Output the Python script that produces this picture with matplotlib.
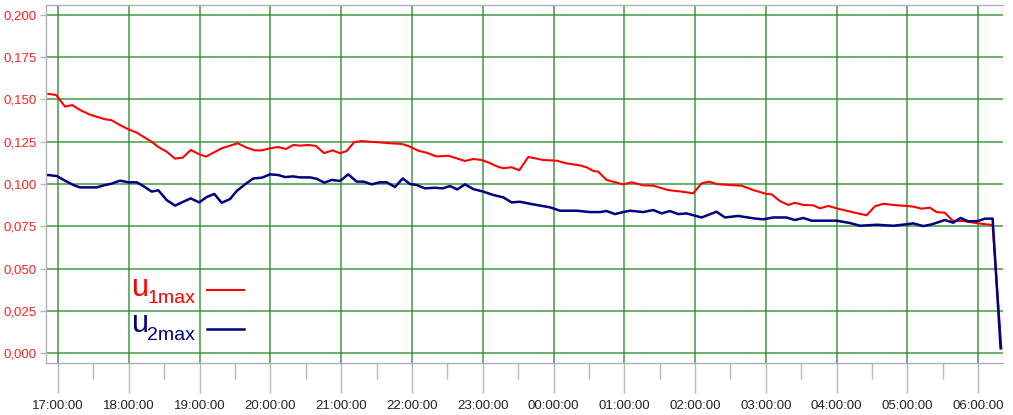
import numpy as np
import matplotlib
matplotlib.use("Agg")
import matplotlib.pyplot as plt
from matplotlib.ticker import FixedLocator, FuncFormatter
from matplotlib.transforms import Bbox, TransformedBbox

plt.rcParams["font.family"] = ["Liberation Sans", "DejaVu Sans"]

# time axis: minutes after 17:00
t_u1 = [-8.2, -1.7, 5.9, 12.1, 18.6, 26.5, 32.8, 39.8, 45.5, 52.5, 59.6, 66.7,
        73.7, 79.4, 85.0, 92.1, 99.2, 105.7, 112.5, 119.7, 125.4, 131.6, 138.7,
        145.8, 152.3, 159.9, 166.9, 172.6, 179.7, 186.7, 193.2, 199.4, 205.1,
        212.1, 218.7, 225.4, 232.8, 239.0, 244.7, 250.9, 257.4, 264.4, 272.9,
        281.4, 291.3, 296.9, 305.4, 312.5, 320.9, 330.8, 337.9, 344.9, 352.0,
        359.1, 364.7, 371.8, 377.4, 384.5, 391.0, 398.6, 411.3, 422.6, 431.1,
        442.4, 448.1, 453.7, 457.9, 465.0, 473.5, 479.1, 486.3, 496.1, 504.5,
        517.2, 528.6, 538.4, 545.5, 552.0, 558.2, 569.5, 579.4, 589.3, 600.6,
        604.9, 611.9, 619.0, 624.6, 631.7, 640.2, 645.8, 652.9, 660.0, 674.1,
        685.4, 692.4, 699.5, 708.0, 719.3, 724.9, 732.0, 739.0, 744.7, 751.7,
        758.3, 767.2, 780.0, 792.2, 799.6]
u1max = [0.1533, 0.1527, 0.1458, 0.1467, 0.1438, 0.1412, 0.1398, 0.1383, 0.1377,
         0.1349, 0.1324, 0.1304, 0.1274, 0.1250, 0.1219, 0.1191, 0.1150, 0.1156,
         0.1201, 0.1176, 0.1162, 0.1185, 0.1211, 0.1227, 0.1241, 0.1215, 0.1199,
         0.1199, 0.1211, 0.1219, 0.1207, 0.1231, 0.1227, 0.1231, 0.1225, 0.1183,
         0.1199, 0.1182, 0.1195, 0.1247, 0.1254, 0.1250, 0.1246, 0.1241, 0.1237,
         0.1225, 0.1197, 0.1185, 0.1163, 0.1167, 0.1152, 0.1136, 0.1148, 0.1142,
         0.1128, 0.1105, 0.1093, 0.1099, 0.1081, 0.1160, 0.1142, 0.1138, 0.1122,
         0.1110, 0.1099, 0.1077, 0.1073, 0.1024, 0.1008, 0.0998, 0.1010, 0.0992,
         0.0990, 0.0964, 0.0955, 0.0945, 0.1004, 0.1014, 0.1000, 0.0994, 0.0990,
         0.0964, 0.0941, 0.0939, 0.0899, 0.0876, 0.0889, 0.0876, 0.0874, 0.0856,
         0.0870, 0.0856, 0.0832, 0.0815, 0.0868, 0.0883, 0.0876, 0.0870, 0.0866,
         0.0854, 0.0860, 0.0834, 0.0830, 0.0783, 0.0781, 0.0767, 0.0757, 0.0028]

t_u2 = [-8.2, -1.1, 5.9, 13.0, 18.6, 32.8, 39.8, 45.5, 52.5, 59.6, 66.7, 72.3,
        79.4, 85.0, 92.1, 99.2, 106.2, 112.5, 119.7, 126.0, 132.5, 138.7, 145.8,
        151.5, 158.5, 165.5, 172.6, 179.7, 186.7, 192.4, 199.4, 205.1, 213.6,
        219.2, 225.7, 232.0, 239.0, 246.0, 253.2, 259.2, 265.8, 272.9, 278.6,
        285.6, 292.2, 298.3, 304.0, 311.0, 319.5, 326.0, 332.2, 338.4, 344.9,
        352.0, 360.4, 368.9, 377.4, 384.5, 391.5, 398.6, 405.7, 417.0, 425.5,
        439.6, 450.9, 459.3, 465.0, 472.1, 479.1, 484.8, 496.1, 504.5, 511.6,
        518.6, 525.7, 532.8, 545.5, 558.2, 565.3, 576.6, 589.3, 597.7, 606.2,
        617.5, 624.6, 631.7, 638.8, 660.0, 671.3, 679.8, 693.9, 708.0, 720.7,
        724.9, 733.4, 740.5, 751.7, 758.8, 765.1, 771.5, 780.0, 785.7, 792.2,
        799.0]
u2max = [0.1053, 0.1047, 0.1020, 0.0994, 0.0980, 0.0980, 0.0994, 0.1002, 0.1020,
         0.1010, 0.1010, 0.0988, 0.0955, 0.0963, 0.0905, 0.0872, 0.0895, 0.0915,
         0.0891, 0.0923, 0.0941, 0.0889, 0.0911, 0.0959, 0.0998, 0.1033, 0.1037,
         0.1057, 0.1053, 0.1041, 0.1045, 0.1039, 0.1039, 0.1031, 0.1008, 0.1024,
         0.1018, 0.1057, 0.1014, 0.1014, 0.0998, 0.1010, 0.1010, 0.0982, 0.1033,
         0.1000, 0.0994, 0.0974, 0.0978, 0.0974, 0.0988, 0.0968, 0.0998, 0.0970,
         0.0955, 0.0935, 0.0921, 0.0891, 0.0895, 0.0885, 0.0876, 0.0862, 0.0842,
         0.0842, 0.0834, 0.0834, 0.0840, 0.0822, 0.0834, 0.0842, 0.0834, 0.0846,
         0.0826, 0.0840, 0.0822, 0.0826, 0.0802, 0.0836, 0.0802, 0.0811, 0.0797,
         0.0791, 0.0802, 0.0802, 0.0787, 0.0799, 0.0783, 0.0783, 0.0769, 0.0753,
         0.0759, 0.0753, 0.0763, 0.0767, 0.0751, 0.0761, 0.0787, 0.0771, 0.0799,
         0.0779, 0.0781, 0.0795, 0.0795, 0.0028]

y_ticks = [0.000, 0.025, 0.050, 0.075, 0.100, 0.125, 0.150, 0.175, 0.200]
hour_ticks = list(range(0, 781, 60))
half_hour_ticks = list(range(30, 781, 60))

W, H = 1013, 415
fig = plt.figure(figsize=(W / 100, H / 100), dpi=100)
ax = fig.add_axes([46 / W, 1 - 363 / H, (1003 - 46) / W, (363 - 5) / H])

ax.plot(t_u1, u1max, color="#ff0000", lw=1.5, zorder=3)
ax.plot(t_u2, u2max, color="#000080", lw=1.8, zorder=4)

ax.set_xlim(-10.2, 801.0)
ax.set_ylim(-0.0059, 0.2059)

ax.xaxis.set_major_locator(FixedLocator(hour_ticks))
ax.xaxis.set_minor_locator(FixedLocator(half_hour_ticks))
ax.xaxis.set_major_formatter(
    FuncFormatter(lambda m, _: "%02d:00:00" % ((17 + int(round(m)) // 60) % 24)))
ax.yaxis.set_major_locator(FixedLocator(y_ticks))
ax.yaxis.set_major_formatter(FuncFormatter(lambda v, _: ("%.3f" % v).replace(".", ",")))

ax.grid(True, which="major", color="#228822", lw=1.1, alpha=0.85)
ax.set_axisbelow(True)

ax.tick_params(axis="x", which="major", length=21.6, width=1, color="#b8b8b8",
               pad=5, labelsize=9.5, labelcolor="#222222")
ax.tick_params(axis="x", which="minor", length=11.5, width=1, color="#b8b8b8")
ax.tick_params(axis="y", length=4.5, width=1, color="#b8b8b8", pad=2,
               labelsize=9.5, labelcolor="#ff2020")

for side in ["left", "bottom", "top"]:
    ax.spines[side].set_color("#b0b0b0")
    ax.spines[side].set_linewidth(1)
ax.spines["right"].set_visible(False)

# the chart area stops at the right edge of the plot, labels included
clip = TransformedBbox(Bbox([[0, 0], [1003 / W, 1]]), fig.transFigure)
for lbl in ax.get_xticklabels():
    lbl.set_clip_box(clip)
    lbl.set_clip_on(True)

# legend built from text and short line samples
def px(x, y):
    return x / W, 1 - y / H

fig.text(*px(131.5, 296), "u", color="#ff0000", fontsize=22)
fig.text(*px(147, 303), "1max", color="#ff0000", fontsize=14)
fig.add_artist(plt.Line2D([207 / W, 244 / W], [1 - 290 / H] * 2, color="#ff0000", lw=1.5))

fig.text(*px(131.5, 332), "u", color="#000080", fontsize=22)
fig.text(*px(147, 340), "2max", color="#000080", fontsize=14)
fig.add_artist(plt.Line2D([207 / W, 244 / W], [1 - 329 / H] * 2, color="#000080", lw=1.8))

fig.savefig("out.png", dpi=100)
